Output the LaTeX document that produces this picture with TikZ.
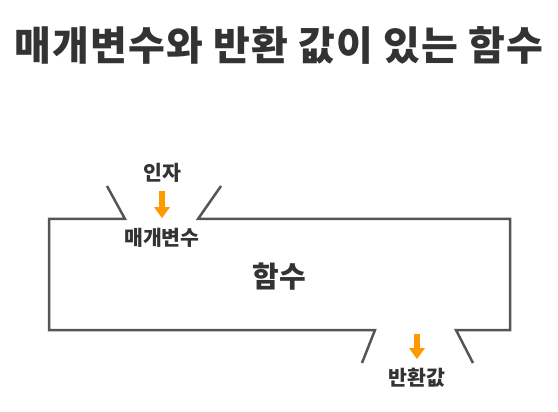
\documentclass[tikz,border=0pt]{standalone}
\usepackage{fontspec}
\setmainfont{Noto Sans CJK KR}
\newfontfamily\headfont[LetterSpace=3,BoldFont={Noto Sans CJK KR Black}]{Noto Sans CJK KR}
\usetikzlibrary{arrows.meta}
\definecolor{ink}{HTML}{333333}
\definecolor{rim}{HTML}{555555}
\definecolor{pointer}{HTML}{FF9900}
\begin{document}
\begin{tikzpicture}[x=1pt,y=-1pt,
		tag/.style={text=ink,inner sep=0pt,font=\bfseries\fontsize{20.5}{20.5}\selectfont},
		feed/.style={pointer,line width=5.5pt,-{Triangle[width=15pt,length=11pt]}}]
	\useasboundingbox (0,0) rectangle (558,412);
	\node[text=ink,inner sep=0pt,font=\headfont\bfseries\fontsize{40}{40}\selectfont] (title) at (279,45) {매개변수와 반환 값이 있는 함수};
	% function body with an opening above and below
	\draw[rim,line width=2.5pt] (107,186)--(125,219)--(49,219)--(49,330)--(375,330)--(362,363);
	\draw[rim,line width=2.5pt] (221,186)--(198,219)--(510,219)--(510,330)--(456,330)--(473,363);
	\node[tag] (arg) at (162,173) {인자};
	\node[tag] (param) at (162,238) {매개변수};
	\node[tag,font=\bfseries\fontsize{29}{29}\selectfont] (func) at (279,277) {함수};
	\node[tag] (ret) at (417,378) {반환값};
	\coordinate (out) at (417,334);
	\draw[feed,shorten <=8pt,shorten >=10pt] (arg.south)--(param.north);
	\draw[feed,shorten >=9pt] (out)--(ret.north);
\end{tikzpicture}
\end{document}
